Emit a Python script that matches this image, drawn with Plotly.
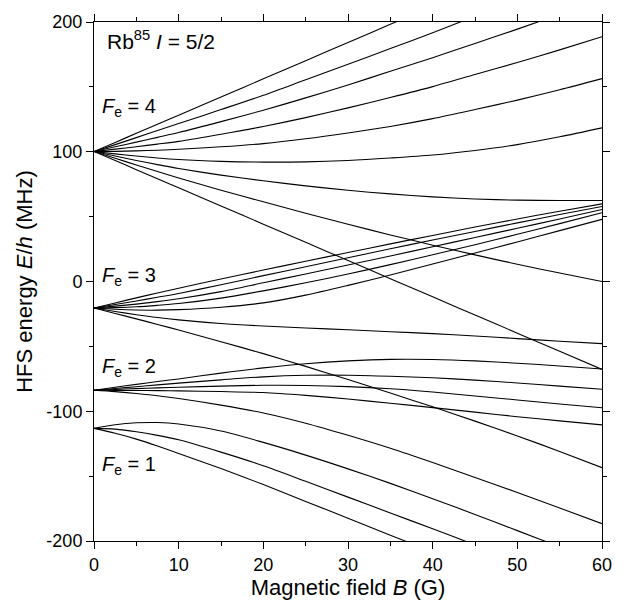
import plotly.graph_objects as go

B = [0, 2.5, 5, 7.5, 10, 15, 20, 25, 30, 35, 40, 45, 50, 55, 60]

# F = 4 manifold
F4_m4 = [100.2, 107.2, 114.2, 121.2, 128.2, 142.2, 156.2, 170.2, 184.2, 198.2, 212.2, 226.2, 240, 254, 268]
F4_m3 = [100.2, 105.5, 110.9, 116.3, 121.7, 132.5, 143.5, 155.5, 167.5, 179.5, 191.8, 204.5, 217, 230, 243]
F4_m2 = [100.2, 103.8, 107.4, 111.1, 114.8, 123.2, 132, 141.5, 151.5, 162, 172.5, 183.5, 194.5, 206, 218]
F4_m1 = [100.2, 102, 103.9, 105.9, 108, 113.5, 119.5, 126.3, 133.8, 141.8, 150.2, 159.5, 168.8, 178.5, 188.6]
F4_m0 = [100.2, 100.3, 100.7, 101.2, 101.9, 103.8, 106.3, 110, 114.5, 119.5, 125.5, 132.5, 139.8, 147.8, 156.4]
F4_mm1 = [100.2, 98.4, 96.7, 95.2, 94, 92.6, 92, 92.2, 93.3, 95.2, 97.5, 101, 105.5, 111.5, 118.4]
F4_mm2 = [100.2, 96.7, 93.3, 90.1, 87.1, 82, 77.6, 73.7, 70.3, 67.5, 65.2, 63.6, 62.7, 62.4, 62.4]
F4_mm3 = [100.2, 95, 89.8, 84.8, 79.8, 70.4, 61.4, 52.6, 44.1, 35.9, 28, 20.5, 13.3, 6.5, 0]
F4_mm4 = [100.2, 93.2, 86.2, 79.2, 72.2, 58.2, 44.2, 30.2, 16.2, 2.2, -11.8, -25.8, -39.8, -53.8, -67.8]

# F = 3 manifold
F3_m3 = [-20.4, -16.5, -12.6, -8.8, -5.2, 1.9, 8.8, 15.6, 22.3, 29, 35.5, 42, 48.2, 54.2, 59.8]
F3_m2 = [-20.4, -17.7, -15, -12.1, -9.2, -2.5, 4.5, 11.4, 18.3, 25.2, 32, 38.6, 45.2, 51.6, 57.8]
F3_m1 = [-20.4, -19, -17.4, -15.5, -13.3, -7.8, -1, 5.8, 12.7, 19.7, 26.8, 33.9, 41, 48.2, 55.5]
F3_m0 = [-20.4, -20.1, -19.5, -18.4, -17, -12.8, -7.2, -1, 5.8, 13, 20.6, 28.3, 36.4, 44.6, 53]
F3_mm1 = [-20.4, -21.4, -22, -22.1, -21.7, -19.8, -16.5, -10.5, -3, 5, 13.5, 22, 30.5, 39.2, 47.9]
F3_mm2 = [-20.4, -23.1, -25.6, -27.8, -29.6, -32.4, -34.3, -35.8, -37.2, -38.7, -40.2, -42, -44, -46, -47.9]
F3_mm3 = [-20.4, -24.6, -28.8, -33.1, -37.4, -46.4, -55.6, -65.4, -75.6, -86, -96.6, -107.6, -119, -131, -143.5]

# F = 2 manifold
F2_a = [-83.8, -81.5, -79.3, -77.1, -75.1, -70.6, -66.6, -63.4, -61.2, -60, -60.1, -61.2, -63, -65.1, -67.4]
F2_b = [-83.8, -82.5, -81.1, -79.7, -78.3, -75.8, -73.5, -72.3, -72.2, -73, -74.2, -76, -78.2, -80.6, -83.1]
F2_c = [-83.8, -83.2, -82.6, -82.0, -81.5, -80.6, -80, -80.1, -81, -82.7, -85.2, -88.2, -91.3, -94.4, -97.3]
F2_d = [-83.8, -83.9, -84.0, -84.1, -84.3, -84.8, -85.6, -87.8, -90.6, -93.8, -97.2, -100.7, -104.2, -107.4, -110.5]
F2_e = [-83.8, -84.9, -86.3, -88.1, -90.2, -95.3, -101.3, -109.2, -118.5, -128.5, -139.5, -151, -162.6, -174.6, -186.6]

# F = 1 manifold
F1_a = [-113.2, -110.4, -108.9, -108.7, -109.8, -115.2, -124, -133.8, -144.4, -155.6, -167.4, -179.5, -192, -204.5, -217]
F1_b = [-113.2, -113.8, -115.8, -118.6, -122, -131.5, -142, -154, -166.2, -178.4, -190.6, -203, -215.5, -228, -240]
F1_c = [-113.2, -117, -121.5, -126.8, -132.5, -144.2, -156.5, -169.5, -182.5, -195.5, -208.5, -221.5, -234.5, -247.5, -260.5]

curves = [F4_m4, F4_m3, F4_m2, F4_m1, F4_m0, F4_mm1, F4_mm2, F4_mm3, F4_mm4,
          F3_m3, F3_m2, F3_m1, F3_m0, F3_mm1, F3_mm2, F3_mm3,
          F2_a, F2_b, F2_c, F2_d, F2_e,
          F1_a, F1_b, F1_c]

x_ticks = [0, 10, 20, 30, 40, 50, 60]
x_ticklabels = ["0", "10", "20", "30", "40", "50", "60"]
y_ticks = [-200, -100, 0, 100, 200]
y_ticklabels = ["-200", "-100", "0", "100", "200"]

labels = [
    ("Rb<sup>85</sup> <i>I</i> = 5/2", 1.3, 186, 21),
    ("<i>F</i><sub>e</sub> = 4", 0.7, 134, 20),
    ("<i>F</i><sub>e</sub> = 3", 0.7, 4, 20),
    ("<i>F</i><sub>e</sub> = 2", 0.7, -66, 20),
    ("<i>F</i><sub>e</sub> = 1", 0.7, -142, 20),
]

FONT = "Liberation Sans, Arial, Helvetica, sans-serif"

fig = go.Figure()
for c in curves:
    fig.add_trace(go.Scatter(x=B, y=c, mode="lines",
                             line=dict(color="black", width=1.1, shape="spline", smoothing=0.8),
                             showlegend=False, hoverinfo="skip"))

for txt, x, y, fs in labels:
    fig.add_annotation(x=x, y=y, text=txt, showarrow=False, xanchor="left", yanchor="middle",
                       font=dict(family=FONT, size=fs, color="black"))

axis_common = dict(showline=True, linecolor="black", linewidth=1, mirror="ticks", ticks="outside",
                   ticklen=7, tickwidth=1, tickcolor="black", showgrid=False, zeroline=False,
                   tickfont=dict(family=FONT, size=18, color="black"))

fig.update_xaxes(range=[0, 60], tickvals=x_ticks, ticktext=x_ticklabels,
                 minor=dict(tickvals=[5, 15, 25, 35, 45, 55], ticklen=4, ticks="outside", tickcolor="black"),
                 title=dict(text="Magnetic field <i>B</i> (G)", font=dict(family=FONT, size=22, color="black"), standoff=4),
                 **axis_common)
fig.update_yaxes(range=[-200, 200], tickvals=y_ticks, ticktext=y_ticklabels,
                 minor=dict(tickvals=[-150, -50, 50, 150], ticklen=4, ticks="outside", tickcolor="black"),
                 title=dict(text="HFS energy <i>E</i>/<i>h</i> (MHz)", font=dict(family=FONT, size=22, color="black"), standoff=7),
                 **axis_common)

fig.update_layout(width=624, height=607, margin=dict(l=94, r=21, t=15, b=66),
                  plot_bgcolor="white", paper_bgcolor="white")

fig.write_html("out.html")
